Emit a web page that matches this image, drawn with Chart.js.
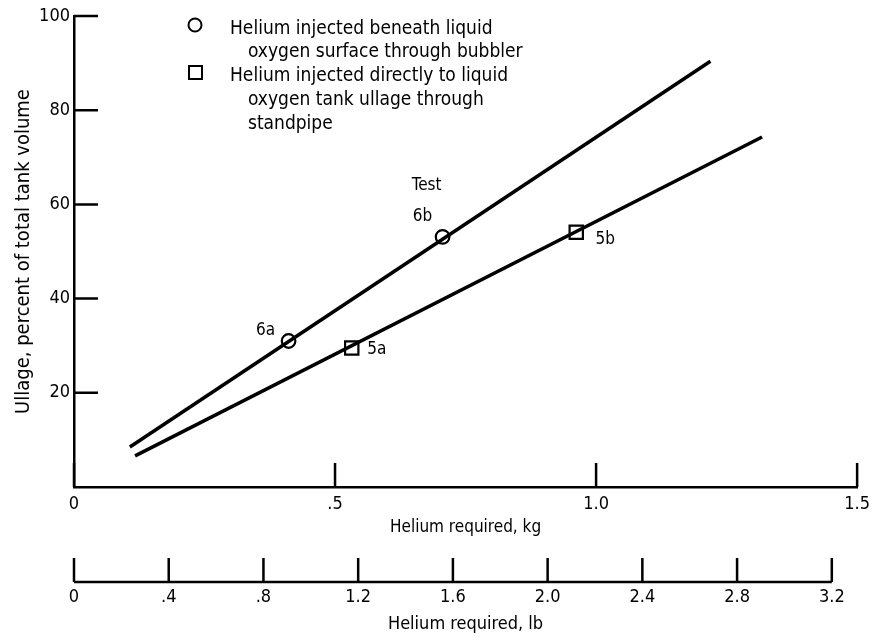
<!DOCTYPE html>
<html>
<head>
<meta charset="utf-8">
<script src="https://cdn.jsdelivr.net/npm/chart.js@4/dist/chart.umd.min.js"></script>
<style>
  html, body { margin: 0; padding: 0; background: #fff; }
  #wrap { width: 877px; height: 638px; }
</style>
</head>
<body>
<div id="wrap"><canvas id="c"></canvas></div>
<script>
const FONT = '"Liberation Sans Narrow", "DejaVu Sans Condensed", "Arial Narrow", sans-serif';

// Ullage (percent of total tank volume) against helium required (kg)
const bubblerLineKg = [0.107, 1.219];
const bubblerLinePct = [8.5, 90.4];
const standpipeLineKg = [0.117, 1.318];
const standpipeLinePct = [6.6, 74.3];

// Test points
const bubblerTests = ['6a', '6b'];
const bubblerTestKg = [0.411, 0.706];
const bubblerTestPct = [31.0, 53.1];
const standpipeTests = ['5a', '5b'];
const standpipeTestKg = [0.532, 0.962];
const standpipeTestPct = [29.5, 54.1];

// Axes
const yTicks = [20, 40, 60, 80, 100];
const kgTicks = [0, 0.5, 1.0, 1.5];
const kgTickLabels = ['0', '.5', '1.0', '1.5'];
const lbTicks = [0, 0.4, 0.8, 1.2, 1.6, 2.0, 2.4, 2.8, 3.2];
const lbTickLabels = ['0', '.4', '.8', '1.2', '1.6', '2.0', '2.4', '2.8', '3.2'];
const LB_PER_KG = 2.20462;

const legendLines = [
  'Helium injected beneath liquid',
  'oxygen surface through bubbler',
  'Helium injected directly to liquid',
  'oxygen tank ullage through',
  'standpipe'
];
const yTitle = 'Ullage, percent of total tank volume';

const pts = (xs, ys) => xs.map((x, i) => ({ x, y: ys[i] }));

// Inward tick marks and the pound scale baseline
const tickMarks = {
  id: 'tickMarks',
  afterDraw(chart) {
    const { ctx, chartArea, scales } = chart;
    const len = 24;
    ctx.save();
    ctx.strokeStyle = '#000';
    ctx.lineWidth = 2.5;
    ctx.beginPath();
    yTicks.forEach(v => {
      const py = scales.y.getPixelForValue(v);
      ctx.moveTo(chartArea.left, py);
      ctx.lineTo(chartArea.left + len, py);
    });
    kgTicks.forEach(v => {
      const px = scales.x.getPixelForValue(v);
      ctx.moveTo(px, chartArea.bottom);
      ctx.lineTo(px, chartArea.bottom - len);
    });
    const lb = scales.lb;
    const yb = lb.top + 22;
    ctx.moveTo(lb.getPixelForValue(lbTicks[0]), yb);
    ctx.lineTo(lb.getPixelForValue(lbTicks[lbTicks.length - 1]), yb);
    lbTicks.forEach(v => {
      const px = lb.getPixelForValue(v);
      ctx.moveTo(px, yb);
      ctx.lineTo(px, yb - len);
    });
    ctx.stroke();
    ctx.restore();
  }
};

// Legend, test labels and the vertical axis title
const annotations = {
  id: 'annotations',
  afterDraw(chart) {
    const { ctx, chartArea } = chart;
    ctx.save();
    ctx.fillStyle = '#000';
    ctx.strokeStyle = '#000';
    ctx.textBaseline = 'alphabetic';
    ctx.textAlign = 'left';

    // legend symbols
    ctx.lineWidth = 2;
    ctx.fillStyle = '#fff';
    ctx.beginPath();
    ctx.arc(195, 25, 6.5, 0, Math.PI * 2);
    ctx.fill(); ctx.stroke();
    ctx.fillRect(189, 66, 13, 13);
    ctx.strokeRect(189, 66, 13, 13);
    ctx.fillStyle = '#000';

    // legend text
    ctx.font = '19px ' + FONT;
    const lx = [230, 248, 230, 248, 248];
    const ly = [34, 57, 81, 105, 129];
    legendLines.forEach((t, i) => ctx.fillText(t, lx[i], ly[i]));

    // test labels beside each marker
    ctx.font = '17px ' + FONT;
    const bMeta = chart.getDatasetMeta(2).data;
    const sMeta = chart.getDatasetMeta(3).data;
    ctx.textAlign = 'center';
    ctx.textBaseline = 'middle';
    const bOff = [[-23, -10], [-20, -20]];
    const sOff = [[25, 2], [29, 7]];
    bubblerTests.forEach((t, i) => ctx.fillText(t, bMeta[i].x + bOff[i][0], bMeta[i].y + bOff[i][1]));
    standpipeTests.forEach((t, i) => ctx.fillText(t, sMeta[i].x + sOff[i][0], sMeta[i].y + sOff[i][1]));
    ctx.fillText('Test', bMeta[1].x - 16, bMeta[1].y - 51);

    // vertical axis title
    ctx.font = '20px ' + FONT;
    ctx.translate(29, (chartArea.top + chartArea.bottom) / 2);
    ctx.rotate(-Math.PI / 2);
    ctx.textBaseline = 'alphabetic';
    ctx.fillText(yTitle, 0, 0);
    ctx.restore();
  }
};

new Chart(document.getElementById('c'), {
  type: 'scatter',
  data: {
    datasets: [
      { data: pts(bubblerLineKg, bubblerLinePct), showLine: true, borderColor: '#000', borderWidth: 3.5, pointRadius: 0 },
      { data: pts(standpipeLineKg, standpipeLinePct), showLine: true, borderColor: '#000', borderWidth: 3.5, pointRadius: 0 },
      { data: pts(bubblerTestKg, bubblerTestPct), pointStyle: 'circle', pointRadius: 6.8, pointBorderWidth: 2.2, pointBackgroundColor: '#fff', pointBorderColor: '#000' },
      { data: pts(standpipeTestKg, standpipeTestPct), pointStyle: 'rect', pointRadius: 9.4, pointBorderWidth: 2.2, pointBackgroundColor: '#fff', pointBorderColor: '#000' }
    ]
  },
  options: {
    responsive: true,
    maintainAspectRatio: false,
    animation: false,
    layout: { padding: { top: 16, right: 19, left: 0, bottom: 0 } },
    plugins: { legend: { display: false }, tooltip: { enabled: false } },
    scales: {
      y: {
        type: 'linear', position: 'left', min: 0, max: 100,
        afterBuildTicks: s => { s.ticks = yTicks.map(v => ({ value: v })); },
        afterFit: s => { s.width = 74; },
        grid: { display: false, drawTicks: false },
        border: { display: true, color: '#000', width: 2.5 },
        ticks: { color: '#000', font: { family: FONT, size: 18 }, padding: 4 }
      },
      x: {
        type: 'linear', position: 'bottom', min: 0, max: 1.5, weight: 0,
        afterBuildTicks: s => { s.ticks = kgTicks.map(v => ({ value: v })); },
        afterFit: s => { s.height = 73; },
        grid: { display: false, drawTicks: false },
        border: { display: true, color: '#000', width: 2.5 },
        ticks: { color: '#000', font: { family: FONT, size: 18 }, padding: 7, autoSkip: false, maxRotation: 0,
                 callback: (v, i) => kgTickLabels[i] },
        title: { display: true, text: 'Helium required, kg', color: '#000', font: { family: FONT, size: 17 }, padding: { top: 0, bottom: 22 } }
      },
      lb: {
        type: 'linear', position: 'bottom', min: 0, max: 1.5 * LB_PER_KG, weight: 1,
        afterBuildTicks: s => { s.ticks = lbTicks.map(v => ({ value: v })); },
        afterFit: s => { s.height = 78; },
        grid: { display: false, drawTicks: false },
        border: { display: false },
        ticks: { color: '#000', font: { family: FONT, size: 18 }, padding: 27, autoSkip: false, maxRotation: 0,
                 callback: (v, i) => lbTickLabels[i] },
        title: { display: true, text: 'Helium required, lb', color: '#000', font: { family: FONT, size: 18 }, padding: { top: 0, bottom: 3 } }
      }
    }
  },
  plugins: [tickMarks, annotations]
});
</script>
</body>
</html>
